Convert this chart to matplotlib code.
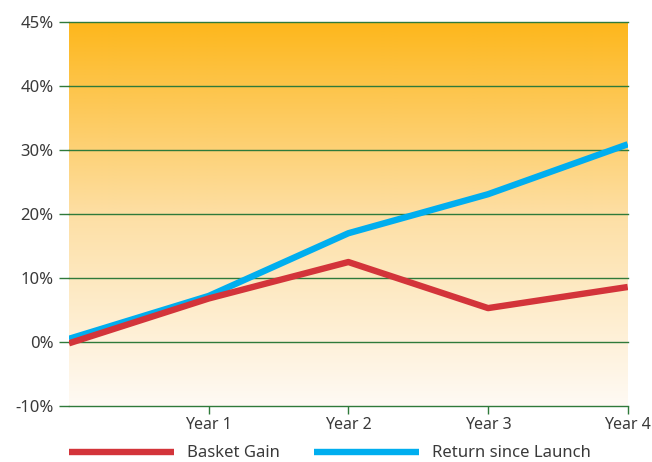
import numpy as np
import matplotlib
matplotlib.use('Agg')
import matplotlib.pyplot as plt
from matplotlib.colors import LinearSegmentedColormap

# Dados
anos = [0, 1, 2, 3, 4]
rotulos_x = ['', 'Year 1', 'Year 2', 'Year 3', 'Year 4']
basket_gain = [-0.2, 6.8, 12.5, 5.3, 8.6]
retorno_lancamento = [0.5, 7.2, 17.0, 23.1, 30.9]
ticks_y = [-10, 0, 10, 20, 30, 40, 50]
rotulos_y = ['-10%', '0%', '10%', '20%', '30%', '40%', '45%']

plt.rcParams['font.family'] = ['Noto Sans', 'DejaVu Sans']

fig = plt.figure(figsize=(6.52, 4.62), dpi=100)
ax = fig.add_axes([0.1058, 0.1212, 0.857, 0.831])

# fundo em degrade
cmap = LinearSegmentedColormap.from_list('fundo', ['#FFFAF4', '#FDDFA4', '#FDB71C'])
grad = np.linspace(0, 1, 256).reshape(-1, 1)
ax.imshow(grad, aspect='auto', cmap=cmap, origin='lower',
          extent=[0, 4, -10, 50], zorder=0)

ax.set_xlim(0, 4)
ax.set_ylim(-10, 50)

verde = '#2F7A3A'
for v in ticks_y:
    ax.axhline(v, color=verde, lw=1.0, zorder=1, clip_on=False)

ax.plot(anos, retorno_lancamento, color='#00AEEF', lw=4.6, zorder=3,
        solid_capstyle='butt', label='Return since Launch')
ax.plot(anos, basket_gain, color='#D3343A', lw=4.6, zorder=4,
        solid_capstyle='butt', label='Basket Gain')

for s in ax.spines.values():
    s.set_visible(False)

ax.set_yticks(ticks_y)
ax.set_yticklabels(rotulos_y, fontsize=12, color='#3a3a3a')
ax.tick_params(axis='y', length=7, width=1.0, color=verde, pad=4)

ax.set_xticks(anos[1:])
ax.set_xticklabels(rotulos_x[1:], fontsize=11.5, color='#3a3a3a')
ax.tick_params(axis='x', length=6, width=1.0, color=verde, pad=2)

handles, labels = ax.get_legend_handles_labels()
ax.legend([handles[1], handles[0]], [labels[1], labels[0]],
          loc='upper left', bbox_to_anchor=(0.106, 0.036),
          bbox_transform=fig.transFigure, ncol=2, frameon=False,
          handlelength=6.3, handletextpad=0.75, columnspacing=2.1,
          fontsize=12, borderaxespad=0, borderpad=0, labelcolor='#3a3a3a')

plt.savefig('out.png', dpi=100)
